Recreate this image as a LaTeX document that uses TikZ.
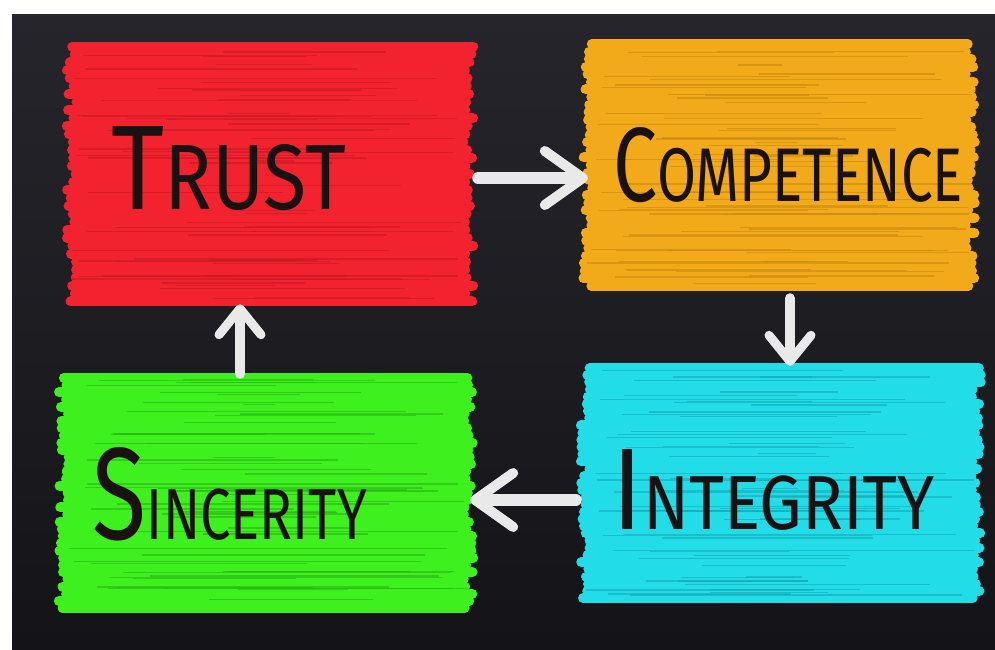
\documentclass[tikz,border=0pt]{standalone}
\usepackage{fontspec}
\usepackage{graphicx}
\setmainfont{Fira Sans}
\usetikzlibrary{calc,arrows.meta}
\definecolor{board}{HTML}{141418}
\definecolor{boardtop}{HTML}{26252B}
\definecolor{cred}{HTML}{F2232E}
\definecolor{cred2}{HTML}{C81A24}
\definecolor{corange}{HTML}{F3AA1A}
\definecolor{corange2}{HTML}{C98A12}
\definecolor{ccyan}{HTML}{22DDE8}
\definecolor{ccyan2}{HTML}{15A9B6}
\definecolor{cgreen}{HTML}{3DF01E}
\definecolor{cgreen2}{HTML}{2AB514}
\definecolor{ink}{HTML}{1A1212}
\definecolor{chalk}{HTML}{E9E9E9}
\newcommand\chalkfill[3]{%
  \foreach \k in {0,...,32}{%
    \pgfmathsetmacro\t{0.025+0.95*\k/32}
    \draw[line width=10pt, line cap=round, draw=#2]
      ($(#1.north west)!\t!(#1.south west)+({5+rnd*10},0)$) --
      ($(#1.north east)!\t!(#1.south east)+({-5-rnd*10},0)$);
  }%
  \foreach \k in {0,...,55}{%
    \pgfmathsetmacro\ya{0.03+0.94*rnd}
    \pgfmathsetmacro\xa{0.02+0.45*rnd}
    \pgfmathsetmacro\xb{0.5+0.48*rnd}
    \draw[line width=1.3pt, draw=#3, opacity=0.6]
      let \p1=(#1.north west), \p2=(#1.south east) in
      ({\x1+\xa*(\x2-\x1)},{\y1+\ya*(\y2-\y1)}) --
      ({\x1+\xb*(\x2-\x1)},{\y1+\ya*(\y2-\y1)});
  }%
}
\newcommand\chalkword[5]{\resizebox{#1}{#2}{\fontsize{100pt}{100pt}\selectfont #3\fontsize{#5pt}{#5pt}\selectfont #4}}
\tikzset{
  box/.style={inner sep=0pt, minimum width=#1},
  word/.style={inner sep=0pt, text=ink},
  chalkarrow/.style={draw=chalk, line width=12pt, line cap=round,
    -{Straight Barb[length=38pt, width=54pt, line width=10pt, round]}},
  smallarrow/.style={draw=chalk, line width=10pt, line cap=round,
    -{Straight Barb[length=26pt, width=42pt, line width=9pt, round]}},
}
\begin{document}
\begin{tikzpicture}[x=1pt,y=-1pt]
\pgfmathsetseed{4242}
\useasboundingbox (0,0) rectangle (995,649);
\fill[white] (0,0) rectangle (995,649);
\shade[top color=boardtop, bottom color=board] (12,14) rectangle (995,649);
% boxes
\node[box=416pt, minimum height=268pt] (red) at (270,174) {};
\node[box=402pt, minimum height=254pt] (orange) at (779,165) {};
\node[box=410pt, minimum height=242pt] (cyan) at (781,483) {};
\node[box=424pt, minimum height=242pt] (green) at (266,493) {};
\chalkfill{red}{cred}{cred2}
\chalkfill{orange}{corange}{corange2}
\chalkfill{cyan}{ccyan}{ccyan2}
\chalkfill{green}{cgreen}{cgreen2}
% words
\node[word] (trust) at (229,168.5) {\chalkword{234pt}{83pt}{T}{RUST}{77}};
\node[word] (competence) at (788,165) {\chalkword{350pt}{74pt}{C}{OMPETENCE}{72}};
\node[word] (integrity) at (774,490) {\chalkword{322pt}{80pt}{I}{NTEGRITY}{66}};
\node[word] (sincerity) at (230,494) {\chalkword{274pt}{92pt}{S}{INCERITY}{55}};
% arrows
\draw[chalkarrow, shorten >=-10pt] (red.east |- 0,178) -- (orange.west |- 0,178);
\draw[smallarrow, shorten >=-4pt, shorten <=6pt] (orange.south -| 790,0) -- (cyan.north -| 790,0);
\draw[chalkarrow, shorten >=-8pt] (cyan.west |- 0,500) -- (green.east |- 0,500);
\draw[smallarrow, shorten >=-4pt, shorten <=-2pt] (green.north -| 240,0) -- (red.south -| 240,0);
\end{tikzpicture}
\end{document}
